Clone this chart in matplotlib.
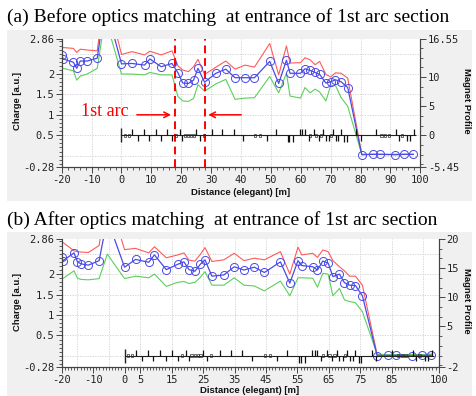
import matplotlib.pyplot as plt
from matplotlib.patches import Rectangle
from matplotlib.ticker import MultipleLocator

# monitor positions along the line [m] (shared by both panels)
s = [-20.0, -19.5, -16.1, -15.0, -13.8, -11.5, -8.1, -5.5, 0.0, 3.5,
     7.7, 9.5, 13.3, 16.9, 18.9, 20.5, 22.4, 24.1, 25.6, 27.8,
     31.6, 34.9, 38.0, 41.3, 44.5, 49.6, 52.6, 55.2, 56.4, 59.9,
     61.4, 63.1, 64.8, 66.3, 68.4, 70.0, 71.6, 73.5, 75.7, 80.4,
     84.0, 86.4, 91.5, 94.6, 97.6]

# (a) before matching
charge_a = [2.47, 2.37, 2.29, 2.14, 2.32, 2.32, 2.39, 3.75, 2.25, 2.26,
            2.22, 2.37, 2.18, 2.26, 2.03, 1.78, 1.77, 1.85, 2.14, 1.80,
            2.02, 2.12, 1.91, 1.91, 1.91, 2.31, 1.77, 2.34, 2.02, 2.02,
            2.13, 2.09, 2.04, 1.99, 1.78, 1.81, 1.86, 1.81, 1.67, 0.02,
            0.03, 0.03, 0.02, 0.03, 0.03]
upper_a = [2.65, 2.65, 2.63, 2.53, 2.61, 2.59, 2.57, 4.10, 2.48, 2.55,
           2.47, 2.56, 2.47, 2.57, 2.20, 2.10, 2.06, 2.18, 2.36, 1.99,
           2.17, 2.32, 2.12, 2.22, 2.17, 2.75, 1.98, 2.69, 2.27, 2.28,
           2.40, 2.35, 2.23, 2.31, 1.99, 1.93, 2.03, 2.02, 1.90, 0.03,
           0.03, 0.03, 0.03, 0.03, 0.03]
lower_a = [2.16, 2.14, 2.08, 1.85, 1.95, 2.00, 2.14, 3.40, 2.00, 2.00,
           1.98, 2.04, 1.98, 1.98, 1.45, 1.34, 1.33, 1.40, 1.74, 1.58,
           1.76, 1.87, 1.38, 1.41, 1.42, 1.94, 1.54, 2.02, 1.46, 1.41,
           1.67, 1.54, 1.63, 1.56, 1.34, 1.72, 1.72, 1.42, 1.21, 0.03,
           0.03, 0.03, 0.03, 0.03, 0.03]

# (b) after matching
charge_b = [2.41, 2.33, 2.52, 2.30, 2.25, 2.22, 2.33, 3.35, 2.17, 2.36,
            2.29, 2.47, 2.11, 2.24, 2.30, 2.11, 2.07, 2.24, 2.35, 1.95,
            1.98, 2.18, 2.10, 2.17, 2.04, 2.30, 1.78, 2.33, 2.21, 2.18,
            2.10, 2.32, 2.27, 1.94, 2.00, 1.79, 1.73, 1.72, 1.47, 0.00,
            0.01, 0.01, 0.00, 0.01, 0.01]
upper_b = [2.77, 2.77, 2.57, 2.55, 2.54, 2.53, 2.70, 4.00, 2.60, 2.63,
           2.52, 2.67, 2.40, 2.47, 2.52, 2.34, 2.32, 2.48, 2.65, 2.31,
           2.35, 2.51, 2.33, 2.39, 2.35, 2.55, 2.00, 2.66, 2.47, 2.51,
           2.41, 2.59, 2.55, 2.33, 2.18, 2.08, 1.95, 1.95, 1.73, 0.03,
           0.02, 0.02, 0.03, 0.03, 0.04]
lower_b = [1.89, 1.90, 2.08, 1.90, 1.87, 1.86, 1.89, 2.49, 1.89, 1.95,
           1.91, 2.00, 1.70, 1.80, 1.82, 1.77, 1.80, 1.92, 2.06, 1.73,
           1.73, 1.91, 1.73, 1.71, 1.59, 1.83, 1.47, 1.91, 1.91, 1.90,
           1.68, 2.02, 2.00, 1.47, 1.65, 1.37, 1.33, 1.30, 1.08, 0.04,
           0.03, 0.03, 0.03, 0.03, 0.04]

# magnet profile (right axis units)
quad_x = [3.5, 5.6, 7.5, 9.2, 11.4, 13.2, 15.2, 16.9, 19.6, 20.4,
          25.0, 26.2, 30.3, 33.8, 37.5, 40.6, 48.6, 51.8, 55.6, 56.2,
          57.4, 59.8, 60.5, 61.3, 62.6, 64.5, 66.0, 67.5, 68.4, 69.6,
          70.8, 71.9, 72.6, 73.4, 74.6, 75.3, 78.6, 80.0, 85.0, 91.7,
          92.8, 95.6, 96.7, 97.8]
quad_h = [1, -1, 1, -1, 1, -1, 1, -1, 1, -1,
          1, -1, 1, 1, 1, -1, -1, 1, -1.2, -1.2,
          -1.2, 1, 1, 1, -1, 1, -1, 1, -1, -1,
          1, -1, -1, 1, -1.2, -1.2, 1, -1, 1, 1,
          -1, -1, -1, 1]
dip_x = [1.2, 2.4, 18.3, 21.3, 22.3, 23.3, 24.2, 27.5, 44.8, 46.2,
         63.2, 65.2, 66.8, 70.2, 87.0, 88.2, 89.4, 93.9]

RED = '#ff5a5a'
GREEN = '#5ccf5c'
BLUE = '#4a4ae6'
MONO = 'DejaVu Sans Mono'

fig = plt.figure(figsize=(4.77, 3.96), dpi=100)
fig.add_artist(Rectangle((0.0147, 0.492), 0.975, 0.432, transform=fig.transFigure,
                         facecolor='#f0f0f0', edgecolor='none', zorder=-5))
fig.add_artist(Rectangle((0.0147, 0.0), 0.975, 0.414, transform=fig.transFigure,
                         facecolor='#f0f0f0', edgecolor='none', zorder=-5))


def panel(rect, up, mid, lo, y2lim, y2ticks, y2labels, xticks, xminor, xgrid):
    ax = fig.add_axes(rect)
    ax.set_facecolor('white')
    ax.set_xlim(-20, 100)
    ax.set_ylim(-0.28, 2.86)
    for g in xgrid:
        ax.axvline(g, color='#cfcfcf', lw=0.6, ls=(0, (1.5, 1.5)), zorder=0)
    for g in [0, 0.5, 1, 1.5, 2, 2.5]:
        ax.axhline(g, color='#cfcfcf', lw=0.6, ls=(0, (1.5, 1.5)), zorder=0)
    ax.plot(s, up, color=RED, lw=0.8, zorder=3)
    ax.plot(s, lo, color=GREEN, lw=0.8, zorder=3)
    ax.plot(s, mid, color=BLUE, lw=0.9, marker='o', ms=5.8, mfc='none',
            mec=BLUE, mew=0.7, zorder=4)
    ax.set_yticks([-0.28, 0.5, 1, 1.5, 2, 2.86])
    ax.set_yticklabels(['-0.28', '0.5', '1', '1.5', '2', '2.86'])
    ax.yaxis.set_minor_locator(MultipleLocator(0.1))
    ax.set_xticks(xticks)
    ax.set_xticklabels([str(t) for t in xticks])
    ax.xaxis.set_minor_locator(MultipleLocator(xminor))

    ax2 = ax.twinx()
    ax2.set_ylim(*y2lim)
    ax2.set_yticks(y2ticks)
    ax2.set_yticklabels(y2labels)
    ax2.yaxis.set_minor_locator(MultipleLocator(5 / 3))
    ax2.hlines(0, 0, 98.5, color='#222222', lw=0.8)
    ax2.vlines(0, -1.2, 1.2, color='#222222', lw=1.0)
    ax2.vlines(quad_x, 0, quad_h, color='#111111', lw=0.9)
    for d in dip_x:
        ax2.add_patch(Rectangle((d - 0.35, -0.3), 0.7, 0.6, facecolor='none',
                                edgecolor='#333333', lw=0.5))

    for a in (ax, ax2):
        a.spines['top'].set_visible(False)
        for sp in ('left', 'right', 'bottom'):
            a.spines[sp].set_color('#444444')
            a.spines[sp].set_linewidth(0.8)
        a.tick_params(which='major', direction='out', length=4, width=0.7,
                      colors='#444444', labelcolor='#222222', labelsize=7.5, pad=1.5)
        a.tick_params(which='minor', direction='out', length=2, width=0.6,
                      colors='#444444')
        for lab in a.get_xticklabels() + a.get_yticklabels():
            lab.set_fontfamily(MONO)
    return ax, ax2


# (a)
ax_a, ax2_a = panel([0.1294, 0.5783, 0.7518, 0.3232], upper_a, charge_a, lower_a,
                    (-5.45, 16.55), [-5.45, 0, 5, 10, 16.55],
                    ['-5.45', '0', '5', '10', '16.55'],
                    list(range(-20, 101, 10)), 2, list(range(-10, 100, 10)))
for xv in (17.8, 27.8):
    ax_a.axvline(xv, color='red', lw=1.4, ls=(0, (4, 2.5)), zorder=6)
ax_a.annotate('', xy=(17.5, 1.0), xytext=(4.2, 1.0),
              arrowprops=dict(arrowstyle='->', color='red', lw=1.1), zorder=6)
ax_a.annotate('', xy=(28.1, 1.0), xytext=(41.0, 1.0),
              arrowprops=dict(arrowstyle='->', color='red', lw=1.1), zorder=6)
ax_a.text(-13.6, 1.08, '1st arc', color='red', fontsize=13,
          family='Liberation Serif', ha='left', va='center')

# (b)
ax_b, ax2_b = panel([0.1294, 0.0725, 0.7904, 0.3240], upper_b, charge_b, lower_b,
                    (-2, 20), [-2, 5, 10, 15, 20], ['-2', '5', '10', '15', '20'],
                    [-20, -10, 0, 5, 15, 25, 35, 45, 55, 65, 75, 85, 100], 1,
                    list(range(-15, 100, 10)))

fig.text(0.0147, 0.957, '(a) Before optics matching  at entrance of 1st arc section',
         family='Liberation Serif', fontsize=14, ha='left', va='center')
fig.text(0.0147, 0.4444, '(b) After optics matching  at entrance of 1st arc section',
         family='Liberation Serif', fontsize=14, ha='left', va='center')

lab = dict(family='Liberation Sans', weight='bold', fontsize=6.8, color='#111111')
fig.text(0.0377, 0.745, 'Charge [a.u.]', rotation=90, ha='center', va='center', **lab)
fig.text(0.0377, 0.238, 'Charge [a.u.]', rotation=90, ha='center', va='center', **lab)
fig.text(0.979, 0.745, 'Magnet Profile', rotation=270, ha='center', va='center', **lab)
fig.text(0.979, 0.240, 'Magnet Profile', rotation=270, ha='center', va='center', **lab)
fig.text(0.505, 0.5134, 'Distance (elegant) [m]', ha='center', va='center', **lab)
fig.text(0.524, 0.002, 'Distance (elegant) [m]', ha='center', va='bottom', **lab)

fig.savefig('out.png', dpi=100)
